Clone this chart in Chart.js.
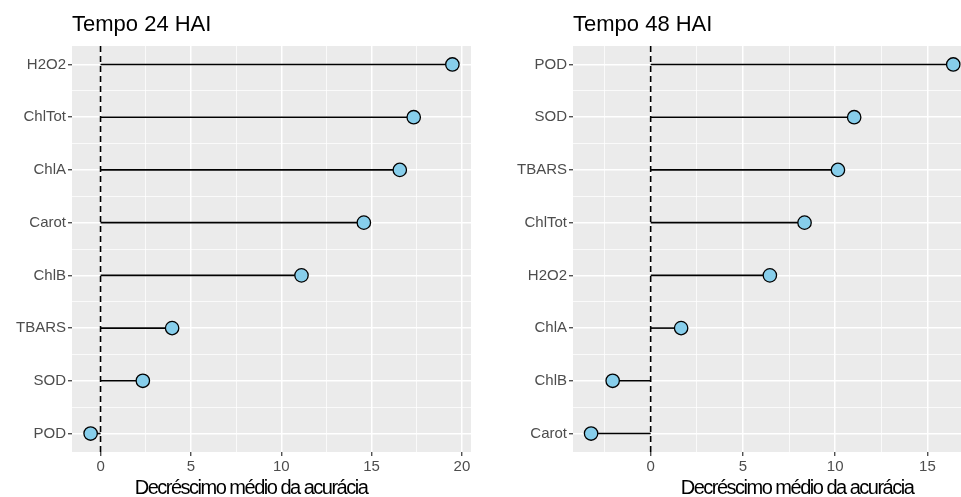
<!DOCTYPE html>
<html>
<head>
<meta charset="utf-8">
<script src="https://cdn.jsdelivr.net/npm/chart.js@4.4.1/dist/chart.umd.min.js"></script>
<style>
  html, body { margin: 0; padding: 0; background: #fff; overflow: hidden; }
  #wrap { position: relative; width: 961px; height: 497px; }
  canvas { position: absolute; top: 0; }
</style>
</head>
<body>
<div id="wrap">
  <canvas id="chart24" width="480" height="497" style="left:0"></canvas>
  <canvas id="chart48" width="481" height="497" style="left:480px"></canvas>
</div>
<script>
// Tempo 24 HAI (top to bottom)
const cats24 = ['H2O2', 'ChlTot', 'ChlA', 'Carot', 'ChlB', 'TBARS', 'SOD', 'POD'];
const vals24 = [19.47, 17.33, 16.56, 14.57, 11.12, 3.96, 2.34, -0.55];
const xTicks24 = [0, 5, 10, 15, 20];

// Tempo 48 HAI (top to bottom)
const cats48 = ['POD', 'SOD', 'TBARS', 'ChlTot', 'H2O2', 'ChlA', 'ChlB', 'Carot'];
const vals48 = [16.4, 11.03, 10.15, 8.34, 6.46, 1.65, -2.06, -3.23];
const xTicks48 = [0, 5, 10, 15];

const xLabel = 'Decréscimo médio da acurácia';
const FONT = "'Liberation Sans', Arial, sans-serif";

// grey panel + titles drawn at the panel's left edge (ggplot style)
const panelPlugin = {
    id: 'panelText',
    beforeDraw(chart, args, opts) {
        const a = chart.chartArea;
        const ctx = chart.ctx;
        ctx.save();
        ctx.fillStyle = '#EBEBEB';
        ctx.fillRect(a.left, a.top, a.right - a.left, a.bottom - a.top);
        ctx.restore();
    },
    afterDraw(chart, args, opts) {
        const a = chart.chartArea;
        const ctx = chart.ctx;
        ctx.save();
        ctx.fillStyle = '#000';
        ctx.textBaseline = 'alphabetic';
        ctx.font = '22px ' + FONT;
        ctx.textAlign = 'left';
        ctx.fillText(opts.title, a.left, 31);
        ctx.font = '20px ' + FONT;
        ctx.letterSpacing = '-1.5px';
        ctx.textAlign = 'center';
        ctx.fillText(opts.xTitle, a.left + opts.xTitleOffset, 494);
        ctx.restore();
    }
};

function makeChart(id, cats, vals, majors, xMin, xMax, yAxisWidth, padRight, title, xTitleOffset) {
    const yMin = 0.65, yMax = cats.length + 0.35;
    const datasets = [];

    // points on top
    datasets.push({
        data: vals.map((v, i) => ({ x: v, y: i + 1 })),
        pointRadius: 6.7,
        pointBackgroundColor: '#87CEEB',
        pointBorderColor: '#000',
        pointBorderWidth: 1.3,
        showLine: false,
        order: 0
    });
    // segments from 0 to value
    vals.forEach((v, i) => {
        datasets.push({
            data: [{ x: 0, y: i + 1 }, { x: v, y: i + 1 }],
            showLine: true,
            borderColor: '#000',
            borderWidth: 1.6,
            pointRadius: 0,
            order: 1
        });
    });
    // dashed zero line
    datasets.push({
        data: [{ x: 0, y: yMin }, { x: 0, y: yMax }],
        showLine: true,
        borderColor: '#000',
        borderWidth: 1.6,
        borderDash: [6, 4],
        pointRadius: 0,
        order: 2
    });

    const step = majors[1] - majors[0];
    const xAll = [];
    for (let t = majors[0] - step; t <= majors[majors.length - 1] + step; t += step / 2) {
        if (t >= xMin && t <= xMax) xAll.push(t);
    }
    const yAll = [];
    for (let t = 0.5; t <= cats.length + 0.5; t += 0.5) {
        if (t >= yMin && t <= yMax) yAll.push(t);
    }
    const isMajorX = v => majors.includes(v);
    const isMajorY = v => Number.isInteger(v);

    return new Chart(document.getElementById(id), {
        type: 'scatter',
        data: { datasets },
        options: {
            responsive: false,
            animation: false,
            devicePixelRatio: 1,
            layout: { autoPadding: false, padding: { top: 46, right: padRight, left: 0, bottom: 0 } },
            plugins: {
                legend: { display: false },
                tooltip: { enabled: false },
                panelText: { title, xTitle: xLabel, xTitleOffset }
            },
            scales: {
                x: {
                    type: 'linear',
                    min: xMin,
                    max: xMax,
                    afterBuildTicks: s => { s.ticks = xAll.map(v => ({ value: v })); },
                    afterFit: s => { s.height = 45; },
                    border: { display: false },
                    grid: {
                        color: '#FFFFFF',
                        lineWidth: c => isMajorX(c.tick.value) ? 1.5 : 0.75,
                        drawTicks: true,
                        tickLength: 4,
                        tickWidth: 1.2,
                        tickColor: c => isMajorX(c.tick.value) ? '#333333' : 'rgba(0,0,0,0)'
                    },
                    ticks: {
                        autoSkip: false,
                        maxRotation: 0,
                        padding: 2,
                        color: '#4D4D4D',
                        font: { family: FONT, size: 15 },
                        callback: v => isMajorX(v) ? String(v) : ''
                    }
                },
                y: {
                    type: 'linear',
                    reverse: true,
                    min: yMin,
                    max: yMax,
                    afterBuildTicks: s => { s.ticks = yAll.map(v => ({ value: v })); },
                    afterFit: s => { s.width = yAxisWidth; },
                    border: { display: false },
                    grid: {
                        color: '#FFFFFF',
                        lineWidth: c => isMajorY(c.tick.value) ? 1.5 : 0.75,
                        drawTicks: true,
                        tickLength: 4,
                        tickWidth: 1.2,
                        tickColor: c => isMajorY(c.tick.value) ? '#333333' : 'rgba(0,0,0,0)'
                    },
                    ticks: {
                        autoSkip: false,
                        padding: 2,
                        color: '#4D4D4D',
                        font: { family: FONT, size: 15 },
                        callback: v => isMajorY(v) ? cats[v - 1] : ''
                    }
                }
            }
        },
        plugins: [panelPlugin]
    });
}

makeChart('chart24', cats24, vals24, xTicks24, -1.58, 20.5, 72, 9, 'Tempo 24 HAI', 179);
makeChart('chart48', cats48, vals48, xTicks48, -4.21, 16.82, 93, 0, 'Tempo 48 HAI', 224);
</script>
</body>
</html>
